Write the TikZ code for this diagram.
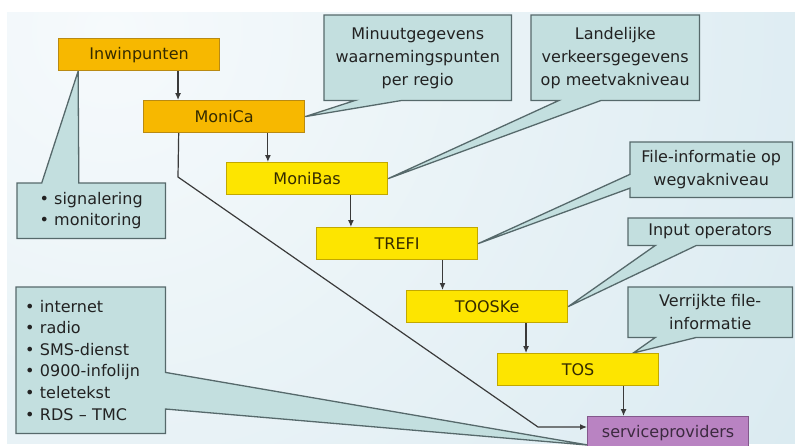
\documentclass[tikz,border=0pt]{standalone}
\usepackage{fontspec}
\setmainfont{DejaVu Sans}
\usetikzlibrary{calc,arrows.meta}
\definecolor{orangebox}{HTML}{F7B800}
\definecolor{orangeline}{HTML}{B98A12}
\definecolor{yellowbox}{HTML}{FDE500}
\definecolor{yellowline}{HTML}{C2A800}
\definecolor{purplebox}{HTML}{B983C2}
\definecolor{purpleline}{HTML}{83588B}
\definecolor{purpletext}{HTML}{3C2A40}
\definecolor{callfill}{HTML}{C3DFDF}
\definecolor{callline}{HTML}{56696B}
\definecolor{bgA}{HTML}{F6FAFC}
\definecolor{bgB}{HTML}{CFE4EC}
\definecolor{boxtext}{HTML}{342B00}
\definecolor{calltext}{HTML}{222222}
\definecolor{arrowcol}{HTML}{3A3A3A}
\pgfdeclarelayer{bg}
\pgfdeclarelayer{mid}
\pgfsetlayers{bg,mid,main}
\begin{document}
\begin{tikzpicture}[x=1pt,y=-1pt,
 flowbox/.style={rectangle, minimum width=161pt, minimum height=32pt, inner sep=0pt, anchor=north west, line width=1.2pt, text=boxtext, font=\fontsize{16}{19}\selectfont},
 orangestep/.style={flowbox, fill=orangebox, draw=orangeline},
 yellowstep/.style={flowbox, fill=yellowbox, draw=yellowline},
 purplestep/.style={flowbox, fill=purplebox, draw=purpleline, text=purpletext},
 calltxt/.style={rectangle, anchor=north west, inner sep=0pt, text=calltext, font=\fontsize{16}{23}\selectfont, align=center},
 callshape/.style={fill=callfill, draw=callline, line width=1.3pt, line join=miter},
 arr/.style={draw=arrowcol, line width=1.2pt, -{Latex[length=7pt,width=6pt]}},
]
\useasboundingbox (0,0) rectangle (795,445);
\begin{pgfonlayer}{bg}
\fill[white] (0,0) rectangle (795,445);
\begin{scope}
\clip (7,12) rectangle (795,443);
\shade[inner color=bgA, outer color=bgB] (110,30) circle (1150);
\end{scope}
\end{pgfonlayer}

% process boxes
\node[orangestep] (inw) at (58,38) {Inwinpunten};
\node[orangestep] (monica) at (143,100) {MoniCa};
\node[yellowstep] (monibas) at (226,162) {MoniBas};
\node[yellowstep] (trefi) at (316,227) {TREFI};
\node[yellowstep] (tooske) at (406,290) {TOOSKe};
\node[yellowstep] (tos) at (497,353) {TOS};
\node[purplestep] (sp) at (587,416) {serviceproviders};

% callout texts
\node[calltxt, minimum width=187pt, minimum height=85pt] (minuut) at (324,15) {Minuutgegevens\\waarnemingspunten\\per regio};
\node[calltxt, minimum width=168pt, minimum height=85pt] (landelijk) at (531,15) {Landelijke\\verkeersgegevens\\op meetvakniveau};
\node[calltxt, minimum width=162pt, minimum height=55pt] (fileinfo) at (630,142) {File-informatie op\\wegvakniveau};
\node[calltxt, minimum width=164pt, minimum height=27pt] (input) at (628,218) {Input operators};
\node[calltxt, minimum width=164pt, minimum height=50pt] (verrijkt) at (628,287) {Verrijkte file-\\informatie};
\node[calltxt, align=left, minimum width=148pt, minimum height=55pt, font=\fontsize{16}{21}\selectfont] (signal) at (17,183) {•\ signalering\\•\ monitoring};
\node[calltxt, align=left, text width=131pt, inner xsep=9pt, minimum width=149pt, minimum height=146pt, font=\fontsize{16}{21.6}\selectfont] (media) at (16,287) {•\ internet\\•\ radio\\•\ SMS-dienst\\•\ 0900-infolijn\\•\ teletekst\\•\ RDS -- TMC};

% callout tips
\coordinate (tipS) at ($(inw.south west)!0.124!(inw.south east)$);
\coordinate (tipV) at ($(tos.north west)!0.84!(tos.north east)$);
\coordinate (tipM) at ($(sp.south west)+(2,-4)$);

\begin{pgfonlayer}{mid}
\path[callshape] (minuut.north west) -- (minuut.north east) -- (minuut.south east)
  -- ($(minuut.south west)!5/12!(minuut.south east)$) -- (monica.east)
  -- ($(minuut.south west)!1/6!(minuut.south east)$) -- (minuut.south west) -- cycle;
\path[callshape] (landelijk.north west) -- (landelijk.north east) -- (landelijk.south east)
  -- ($(landelijk.south west)!5/12!(landelijk.south east)$) -- (monibas.east)
  -- ($(landelijk.south west)!1/6!(landelijk.south east)$) -- (landelijk.south west) -- cycle;
\path[callshape] (fileinfo.north west) -- (fileinfo.north east) -- (fileinfo.south east)
  -- (fileinfo.south west) -- ($(fileinfo.north west)!5/6!(fileinfo.south west)$) -- (trefi.east)
  -- ($(fileinfo.north west)!7/12!(fileinfo.south west)$) -- cycle;
\path[callshape] (input.north west) -- (input.north east) -- (input.south east)
  -- ($(input.south west)!5/12!(input.south east)$) -- (tooske.east)
  -- ($(input.south west)!1/6!(input.south east)$) -- (input.south west) -- cycle;
\path[callshape] (verrijkt.north west) -- (verrijkt.north east) -- (verrijkt.south east)
  -- ($(verrijkt.south west)!5/12!(verrijkt.south east)$) -- (tipV)
  -- ($(verrijkt.south west)!1/6!(verrijkt.south east)$) -- (verrijkt.south west) -- cycle;
\path[callshape] (signal.north west) -- ($(signal.north west)!1/6!(signal.north east)$) -- (tipS)
  -- ($(signal.north west)!5/12!(signal.north east)$) -- (signal.north east)
  -- (signal.south east) -- (signal.south west) -- cycle;
\path[callshape] (media.north west) -- (media.north east)
  -- ($(media.north east)!7/12!(media.south east)$) -- (tipM)
  -- ($(media.north east)!5/6!(media.south east)$) -- (media.south east)
  -- (media.south west) -- cycle;
\end{pgfonlayer}

% flow arrows
\coordinate (a1) at ($(inw.south west)!0.74!(inw.south east)$);
\coordinate (a2) at ($(monica.south west)!0.77!(monica.south east)$);
\coordinate (a3) at ($(monibas.south west)!0.77!(monibas.south east)$);
\coordinate (a4) at ($(trefi.south west)!0.78!(trefi.south east)$);
\coordinate (a5) at ($(tooske.south west)!0.74!(tooske.south east)$);
\coordinate (a6) at ($(tos.south west)!0.78!(tos.south east)$);
\draw[arr] (a1) -- (a1 |- monica.north);
\draw[arr] (a2) -- (a2 |- monibas.north);
\draw[arr] (a3) -- (a3 |- trefi.north);
\draw[arr] (a4) -- (a4 |- tooske.north);
\draw[arr] (a5) -- (a5 |- tos.north);
\draw[arr] (a6) -- (a6 |- sp.north);

\coordinate (b0) at ($(monica.south west)!0.22!(monica.south east)$);
\coordinate (b1) at (178,177);
\coordinate (b2) at (538,427);
\draw[arr] (b0) -- (b1) -- (b2) -- (b2 -| sp.west);
\end{tikzpicture}
\end{document}
